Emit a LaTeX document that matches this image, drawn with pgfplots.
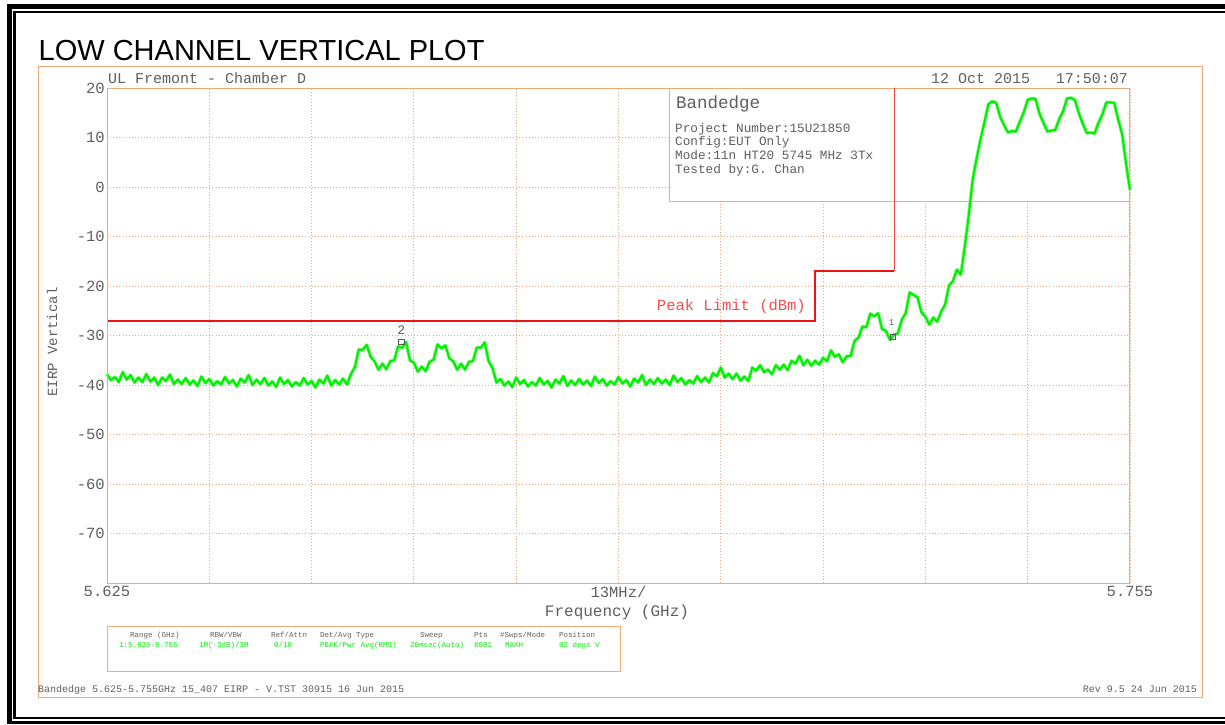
\documentclass[border=0pt]{standalone}
\usepackage{pgfplots}
\pgfplotsset{compat=1.18}
\usepackage{fontspec}
\setmainfont{Liberation Sans}
\newfontfamily\instr{Liberation Mono}
\definecolor{frameor}{RGB}{240,172,120}
\definecolor{gridor}{RGB}{236,168,122}
\definecolor{txtgray}{RGB}{95,95,95}
\definecolor{trace}{RGB}{0,240,0}
\definecolor{tracelt}{RGB}{150,248,150}
\definecolor{limred}{RGB}{236,20,20}
\definecolor{lblred}{RGB}{240,80,80}
\definecolor{lgreen}{RGB}{110,232,110}
\pgfplotstableread{
f y
5.6250 -37.8
5.6255 -39.0
5.6260 -38.4
5.6265 -39.4
5.6270 -37.4
5.6275 -38.9
5.6280 -38.0
5.6285 -39.5
5.6290 -38.5
5.6295 -39.4
5.6300 -37.8
5.6305 -39.3
5.6310 -38.5
5.6315 -40.0
5.6320 -38.5
5.6325 -39.2
5.6330 -37.9
5.6335 -39.8
5.6340 -38.9
5.6345 -39.8
5.6350 -38.6
5.6355 -39.9
5.6360 -39.1
5.6365 -40.2
5.6370 -38.3
5.6375 -39.6
5.6380 -38.8
5.6385 -40.1
5.6390 -39.2
5.6395 -39.9
5.6400 -38.4
5.6405 -39.7
5.6410 -39.0
5.6415 -40.3
5.6420 -38.7
5.6425 -39.5
5.6430 -38.0
5.6435 -40.0
5.6440 -38.9
5.6445 -39.8
5.6450 -38.6
5.6455 -40.1
5.6460 -39.3
5.6465 -40.4
5.6470 -38.5
5.6475 -39.8
5.6480 -39.0
5.6485 -40.3
5.6490 -39.4
5.6495 -40.1
5.6500 -38.6
5.6505 -39.9
5.6510 -39.2
5.6515 -40.5
5.6520 -38.9
5.6525 -39.7
5.6530 -38.1
5.6535 -40.1
5.6540 -39.0
5.6545 -39.9
5.6550 -38.7
5.6555 -39.9
5.6560 -37.8
5.6565 -36.4
5.6570 -32.8
5.6575 -32.9
5.6580 -31.9
5.6585 -34.3
5.6590 -35.2
5.6595 -36.9
5.6600 -35.7
5.6605 -36.8
5.6610 -35.2
5.6615 -35.0
5.6620 -32.2
5.6625 -32.5
5.6630 -31.3
5.6635 -35.0
5.6640 -35.5
5.6645 -37.3
5.6650 -36.3
5.6655 -37.2
5.6660 -35.3
5.6665 -34.9
5.6670 -31.8
5.6675 -32.6
5.6680 -32.0
5.6685 -34.6
5.6690 -35.2
5.6695 -36.9
5.6700 -35.7
5.6705 -36.9
5.6710 -35.3
5.6715 -35.2
5.6720 -32.4
5.6725 -32.5
5.6730 -31.4
5.6735 -35.2
5.6740 -36.6
5.6745 -39.5
5.6750 -38.8
5.6755 -40.1
5.6760 -39.3
5.6765 -40.4
5.6770 -38.5
5.6775 -39.8
5.6780 -39.0
5.6785 -40.3
5.6790 -39.4
5.6795 -40.1
5.6800 -38.6
5.6805 -39.9
5.6810 -39.2
5.6815 -40.5
5.6820 -38.9
5.6825 -39.7
5.6830 -38.2
5.6835 -40.2
5.6840 -39.1
5.6845 -40.0
5.6850 -38.8
5.6855 -39.9
5.6860 -39.1
5.6865 -40.2
5.6870 -38.3
5.6875 -39.6
5.6880 -38.8
5.6885 -40.1
5.6890 -39.2
5.6895 -39.9
5.6900 -38.4
5.6905 -39.7
5.6910 -39.0
5.6915 -40.3
5.6920 -38.7
5.6925 -39.5
5.6930 -38.0
5.6935 -40.0
5.6940 -38.9
5.6945 -39.8
5.6950 -38.6
5.6955 -39.7
5.6960 -38.9
5.6965 -40.0
5.6970 -38.1
5.6975 -39.4
5.6980 -38.6
5.6985 -39.9
5.6990 -39.0
5.6995 -39.7
5.7000 -38.2
5.7005 -39.4
5.7010 -38.5
5.7015 -39.5
5.7020 -37.6
5.7025 -38.2
5.7030 -36.5
5.7035 -38.5
5.7040 -37.7
5.7045 -38.8
5.7050 -37.7
5.7055 -39.1
5.7060 -38.3
5.7065 -39.2
5.7070 -36.5
5.7075 -37.1
5.7080 -36.0
5.7085 -37.4
5.7090 -36.9
5.7095 -37.8
5.7100 -36.0
5.7105 -36.9
5.7110 -35.9
5.7115 -37.0
5.7120 -35.1
5.7125 -35.7
5.7130 -34.1
5.7135 -36.0
5.7140 -34.9
5.7145 -36.1
5.7150 -35.1
5.7155 -35.9
5.7160 -34.5
5.7165 -35.2
5.7170 -33.0
5.7175 -34.3
5.7180 -33.8
5.7185 -35.4
5.7190 -34.2
5.7195 -34.1
5.7200 -31.1
5.7205 -30.4
5.7210 -28.2
5.7215 -28.3
5.7220 -25.6
5.7225 -26.1
5.7230 -25.5
5.7235 -28.7
5.7240 -29.1
5.7245 -30.9
5.7250 -29.8
5.7255 -29.6
5.7260 -26.8
5.7265 -25.5
5.7270 -21.3
5.7275 -21.8
5.7280 -22.3
5.7285 -25.3
5.7290 -26.2
5.7295 -27.8
5.7300 -26.4
5.7305 -27.2
5.7310 -25.2
5.7315 -23.8
5.7320 -19.9
5.7325 -19.0
5.7330 -16.7
5.7335 -17.7
5.7340 -12.1
5.7345 -5.8
5.7350 1.4
5.7355 5.7
5.7360 9.6
5.7365 13.0
5.7370 16.7
5.7375 17.3
5.7380 17.0
5.7385 14.2
5.7390 12.5
5.7395 11.0
5.7400 11.3
5.7405 11.2
5.7410 13.2
5.7415 15.1
5.7420 17.6
5.7425 17.9
5.7430 17.8
5.7435 14.8
5.7440 13.0
5.7445 11.2
5.7450 11.4
5.7455 11.5
5.7460 13.7
5.7465 15.3
5.7470 17.9
5.7475 18.0
5.7480 17.6
5.7485 14.9
5.7490 12.8
5.7495 10.9
5.7500 11.0
5.7505 10.8
5.7510 13.0
5.7515 14.7
5.7520 17.1
5.7525 17.1
5.7530 17.0
5.7535 13.6
5.7540 10.7
5.7545 4.7
5.7550 -0.6
}\tracedata
\begin{document}
\begin{tikzpicture}[x=1pt,y=1pt]
\path[use as bounding box] (0,0) rectangle (1225,-724);
% black borders
\fill[black] (6.7,-4) rectangle (1225,-9.3);
\fill[black] (6.7,-4) rectangle (11.7,-724);
\fill[black] (6.7,-720.7) rectangle (1225,-724);
\fill[black] (13.3,-11) rectangle (1225,-13.3);
\fill[black] (13.3,-11) rectangle (15.7,-719);
\fill[black] (13.3,-716.7) rectangle (1225,-719);
% outer orange frame
\draw[frameor, line width=1pt] (38,-66) rectangle (1202,-697);
% title
\node[anchor=base west, inner sep=0, font=\fontsize{29}{30}\selectfont] at (38.5,-60) {LOW CHANNEL VERTICAL PLOT};

\begin{axis}[
  at={(107pt,-583pt)}, anchor=south west,
  scale only axis, width=1023pt, height=495pt,
  xmin=5.625, xmax=5.755, ymin=-80, ymax=20,
  scaled ticks=false,
  xtick={5.625,5.638,5.651,5.664,5.677,5.690,5.703,5.716,5.729,5.742,5.755},
  xticklabels={5.625,,,,,13MHz/,,,,,5.755},
  ytick={-70,-60,-50,-40,-30,-20,-10,0,10,20},
  yticklabels={-70,-60,-50,-40,-30,-20,-10,0,10,20},
  major tick length=0pt,
  grid=major,
  major grid style={gridor, line width=0.9pt, dash pattern=on 0.9pt off 2.2pt},
  axis line style={frameor, line width=1pt},
  ticklabel style={font=\instr\fontsize{15.5}{17}\selectfont, text=txtgray},
  xticklabel style={anchor=north, inner sep=1pt, yshift=-2pt},
  yticklabel style={anchor=east, inner sep=1pt, xshift=-1pt},
  clip=false,
]
% annotation box (hides grid)
\fill[white] (axis cs:5.69654,-2.83) rectangle (axis cs:5.755,20);
\draw[draw={rgb,255:red,240;green,172;blue,120}, line width=1pt] (axis cs:5.69654,-2.83) rectangle (axis cs:5.755,20);
% peak limit
\addplot[limred, line width=1.7pt] coordinates {(5.625,-27) (5.715,-27) (5.715,-17) (5.725,-17)};
\addplot[limred!80, line width=0.8pt] coordinates {(5.725,-17) (5.725,20)};
% trace: soft halo then core
\addplot[tracelt, line width=3.6pt, line join=round] table[x=f, y=y] {\tracedata};
\addplot[trace, line width=2.1pt, line join=round] table[x=f, y=y] {\tracedata};
% markers
\addplot[only marks, mark=square, mark size=2.6pt, draw=black!65, line width=0.6pt] coordinates {(5.6624,-31.3) (5.7249,-30.3)};
\node[font=\instr\fontsize{13}{14}\selectfont, text=txtgray] at (axis cs:5.6624,-28.9) {2};
\node[font=\instr\fontsize{9}{10}\selectfont, text=txtgray] at (axis cs:5.7247,-27.4) {1};
% left trace edge
\draw[lgreen, line width=1pt] (rel axis cs:0,0) -- (rel axis cs:0,1);
\end{axis}

% texts around the plot
\node[anchor=base west, inner sep=0, text=txtgray, font=\instr\fontsize{15}{17}\selectfont] at (108,-83) {UL Fremont - Chamber D};
\node[anchor=base west, inner sep=0, text=txtgray, font=\instr\fontsize{15}{17}\selectfont] at (931,-83) {12 Oct 2015};
\node[anchor=base east, inner sep=0, text=txtgray, font=\instr\fontsize{15}{17}\selectfont] at (1128,-83) {17:50:07};
\node[anchor=base west, inner sep=0, text=txtgray, font=\instr\fontsize{17.5}{19}\selectfont] at (676,-108) {Bandedge};
\node[anchor=base west, inner sep=0, text=txtgray, font=\instr\fontsize{12.7}{14}\selectfont] at (675,-132) {Project Number:15U21850};
\node[anchor=base west, inner sep=0, text=txtgray, font=\instr\fontsize{12.7}{14}\selectfont] at (675,-145.7) {Config:EUT Only};
\node[anchor=base west, inner sep=0, text=txtgray, font=\instr\fontsize{12.7}{14}\selectfont] at (675,-159.4) {Mode:11n HT20 5745 MHz 3Tx};
\node[anchor=base west, inner sep=0, text=txtgray, font=\instr\fontsize{12.7}{14}\selectfont] at (675,-173) {Tested by:G. Chan};
\node[anchor=base east, inner sep=0, text=lblred, font=\instr\fontsize{15.5}{17}\selectfont] at (806,-310) {Peak Limit (dBm)};
\node[anchor=base, inner sep=0, text=txtgray, font=\instr\fontsize{16}{18}\selectfont] at (617,-616) {Frequency (GHz)};
\node[rotate=90, inner sep=0, text=txtgray, font=\instr\fontsize{14}{16}\selectfont] at (52,-342) {EIRP Vertical};

% settings table
\draw[frameor, line width=1pt] (107,-626) rectangle (620,-671);
\begin{scope}[every node/.style={anchor=base west, inner sep=0, font=\instr\fontsize{7.5}{8}\selectfont}]
\node[text=txtgray] at (130,-637) {Range (GHz)};
\node[text=txtgray] at (210,-637) {RBW/VBW};
\node[text=txtgray] at (271,-637) {Ref/Attn};
\node[text=txtgray] at (320,-637) {Det/Avg Type};
\node[text=txtgray] at (420,-637) {Sweep};
\node[text=txtgray] at (474,-637) {Pts};
\node[text=txtgray] at (500,-637) {\#Swps/Mode};
\node[text=txtgray] at (559,-637) {Position};
\node[text=trace] at (119,-647) {1:5.625-5.755};
\node[text=trace] at (199,-647) {1M(-3dB)/3M};
\node[text=trace] at (274,-647) {0/10};
\node[text=trace] at (320,-647) {PEAK/Pwr Avg(RMS)};
\node[text=trace] at (410,-647) {20msec(Auto)};
\node[text=trace] at (474,-647) {8001};
\node[text=trace] at (505,-647) {MAXH};
\node[text=trace] at (559,-647) {62 degs V};
\end{scope}
\node[anchor=base west, inner sep=0, text=txtgray, font=\instr\fontsize{10}{11}\selectfont] at (38,-692) {Bandedge 5.625-5.755GHz 15\_407 EIRP - V.TST 30915 16 Jun 2015};
\node[anchor=base east, inner sep=0, text=txtgray, font=\instr\fontsize{10}{11}\selectfont] at (1197,-692) {Rev 9.5 24 Jun 2015};
\end{tikzpicture}
\end{document}
